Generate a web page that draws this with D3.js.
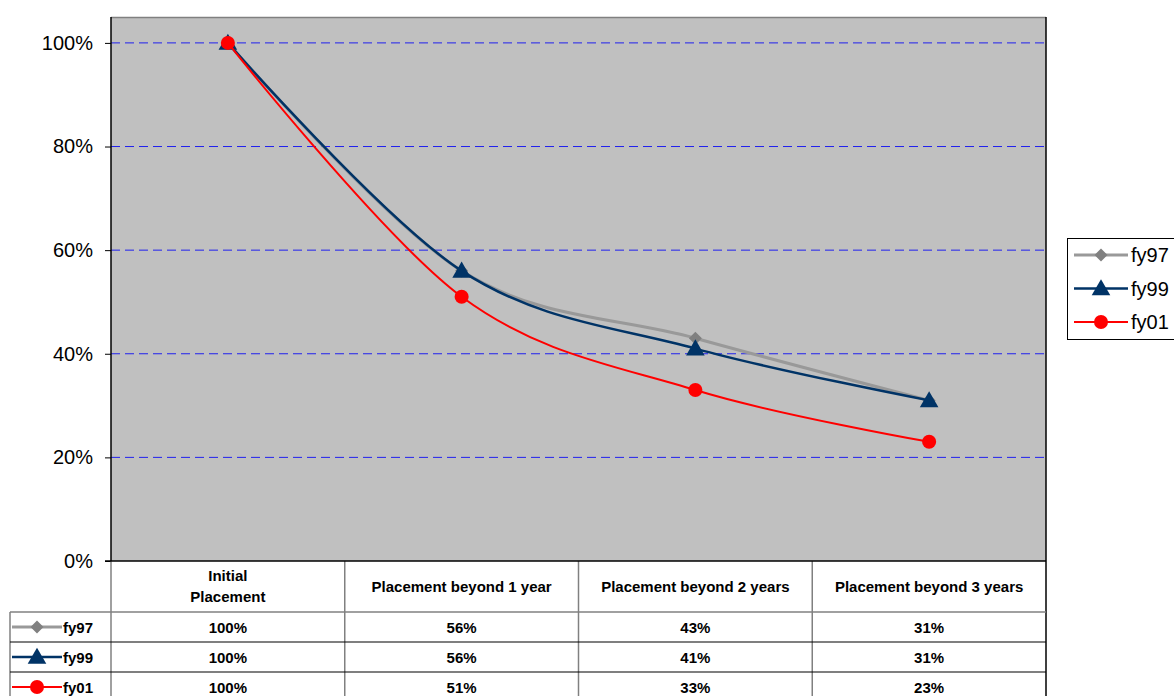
<!DOCTYPE html>
<html>
<head>
<meta charset="utf-8">
<script src="https://cdn.jsdelivr.net/npm/d3@7"></script>
<style>
  html, body { margin: 0; padding: 0; background: #ffffff; }
  svg { display: block; font-family: "Liberation Sans", Arial, sans-serif; }
</style>
</head>
<body>
<svg id="chart" width="1174" height="696"></svg>
<script>
// Placement retention by fiscal year cohort
const categories = ["Initial\nPlacement", "Placement beyond 1 year", "Placement beyond 2 years", "Placement beyond 3 years"];
const seriesNames = ["fy97", "fy99", "fy01"];
const fy97 = [1.00, 0.56, 0.43, 0.31];
const fy99 = [1.00, 0.56, 0.41, 0.31];
const fy01 = [1.00, 0.51, 0.33, 0.23];
const yTicks = [0, 0.2, 0.4, 0.6, 0.8, 1.0];

const seriesValues = [fy97, fy99, fy01];
const styles = {
  fy97: { color: "#999999", marker: "#808080", width: 3, symbol: d3.symbolSquare, size: 85, rotate: 45, dy: 0 },
  fy99: { color: "#003366", marker: "#003366", width: 2.5, symbol: d3.symbolTriangle, size: 150, rotate: 0, dy: 1.5 },
  fy01: { color: "#ff0000", marker: "#ff0000", width: 2, symbol: d3.symbolCircle, size: 155, rotate: 0, dy: 0 }
};

const svg = d3.select("#chart");
const plot = { left: 111, right: 1046, top: 17, bottom: 561 };
const table = { left: 10, headerBottom: 612, rowH: 30 };

const x = d3.scaleBand().domain(categories).range([plot.left, plot.right]);
const y = d3.scaleLinear().domain([0, 1.05]).range([plot.bottom, plot.top]);
const fmt = d3.format(".0%");

// plot background
svg.append("rect")
  .attr("x", plot.left).attr("y", plot.top)
  .attr("width", plot.right - plot.left).attr("height", plot.bottom - plot.top)
  .attr("fill", "#c0c0c0");

// horizontal gridlines
svg.append("g").selectAll("line")
  .data(yTicks.filter(d => d > 0))
  .join("line")
  .attr("x1", plot.left).attr("x2", plot.right)
  .attr("y1", d => y(d)).attr("y2", d => y(d))
  .attr("stroke", "#2020ee").attr("stroke-width", 1)
  .attr("stroke-dasharray", "9,5");

// plot border
svg.append("line").attr("x1", plot.left).attr("x2", plot.right).attr("y1", plot.top + 0.5).attr("y2", plot.top + 0.5)
  .attr("stroke", "#808080").attr("stroke-width", 1.5);
svg.append("line").attr("x1", plot.right).attr("x2", plot.right).attr("y1", plot.top).attr("y2", plot.bottom)
  .attr("stroke", "#000").attr("stroke-width", 1.5);

// y axis
const yAxis = d3.axisLeft(y).tickValues(yTicks).tickFormat(fmt).tickSize(6).tickPadding(12);
const gy = svg.append("g").attr("transform", `translate(${plot.left},0)`).call(yAxis);
gy.select(".domain").attr("stroke", "#000").attr("stroke-width", 1.5)
  .attr("d", `M0,${plot.top}V${plot.bottom}`);
gy.selectAll(".tick line").attr("stroke", "#000");
gy.selectAll(".tick text").attr("font-size", 20).attr("fill", "#000")
  .attr("font-family", "Liberation Sans, Arial, sans-serif");

// data table grid
const tableBottom = table.headerBottom + table.rowH * 3;
const grid = svg.append("g");
x.domain().forEach((c, i) => {
  if (i > 0) {
    grid.append("line").attr("x1", x(c)).attr("x2", x(c))
      .attr("y1", plot.bottom).attr("y2", tableBottom).attr("stroke", "#808080").attr("stroke-width", 1.5);
  }
});
grid.append("line").attr("x1", plot.left).attr("x2", plot.left)
  .attr("y1", plot.bottom).attr("y2", tableBottom).attr("stroke", "#808080").attr("stroke-width", 1.5);
grid.append("line").attr("x1", table.left).attr("x2", table.left)
  .attr("y1", table.headerBottom).attr("y2", tableBottom).attr("stroke", "#808080").attr("stroke-width", 1.5);
grid.append("line").attr("x1", plot.right).attr("x2", plot.right)
  .attr("y1", plot.bottom).attr("y2", tableBottom).attr("stroke", "#000").attr("stroke-width", 1.5);
grid.append("line").attr("x1", table.left).attr("x2", plot.right)
  .attr("y1", table.headerBottom).attr("y2", table.headerBottom).attr("stroke", "#808080").attr("stroke-width", 1.5);
[1, 2].forEach(r => {
  const yy = table.headerBottom + r * table.rowH;
  grid.append("line").attr("x1", table.left).attr("x2", plot.right)
    .attr("y1", yy).attr("y2", yy).attr("stroke", "#000").attr("stroke-width", 1.2);
});
// x axis line (bottom of plot)
svg.append("line").attr("x1", plot.left - 6).attr("x2", plot.right)
  .attr("y1", plot.bottom).attr("y2", plot.bottom).attr("stroke", "#000").attr("stroke-width", 1.5);

// header labels
const headG = svg.append("g").attr("font-size", 15).attr("font-weight", "bold").attr("text-anchor", "middle");
categories.forEach(c => {
  const lines = c.split("\n");
  const cx = x(c) + x.bandwidth() / 2;
  const cy = (plot.bottom + table.headerBottom) / 2;
  const lh = 21;
  lines.forEach((ln, j) => {
    headG.append("text")
      .attr("x", cx)
      .attr("y", cy + (j - (lines.length - 1) / 2) * lh)
      .attr("dy", "0.35em")
      .text(ln);
  });
});

// series lines and markers
const line = d3.line()
  .x((d, i) => x(categories[i]) + x.bandwidth() / 2)
  .y(d => y(d))
  .curve(d3.curveCardinal.tension(0));

function markerTransform(s, cx, cy) {
  return `translate(${cx},${cy + s.dy}) rotate(${s.rotate})`;
}

function keyGlyph(g, name, cx, cy, halfLen) {
  const s = styles[name];
  g.append("line").attr("x1", cx - halfLen).attr("x2", cx + halfLen)
    .attr("y1", cy).attr("y2", cy).attr("stroke", s.color).attr("stroke-width", s.width);
  g.append("path").attr("d", d3.symbol(s.symbol, s.size)())
    .attr("transform", markerTransform(s, cx, cy))
    .attr("fill", s.marker);
}

seriesNames.forEach((name, k) => {
  const s = styles[name];
  const vals = seriesValues[k];
  const g = svg.append("g");
  g.append("path").datum(vals).attr("d", line)
    .attr("fill", "none").attr("stroke", s.color).attr("stroke-width", s.width);
  g.selectAll("path.m").data(vals).join("path").attr("class", "m")
    .attr("d", d3.symbol(s.symbol, s.size))
    .attr("transform", (d, i) => markerTransform(s, x(categories[i]) + x.bandwidth() / 2, y(d)))
    .attr("fill", s.marker);

  // table row
  const rowCy = table.headerBottom + k * table.rowH + table.rowH / 2 + 1;
  const row = svg.append("g").attr("font-size", 15).attr("font-weight", "bold");
  keyGlyph(row, name, 37, rowCy - 1, 25);
  row.append("text").attr("x", 63).attr("y", rowCy).attr("dy", "0.35em").text(name);
  vals.forEach((v, i) => {
    row.append("text")
      .attr("x", x(categories[i]) + x.bandwidth() / 2)
      .attr("y", rowCy).attr("dy", "0.35em")
      .attr("text-anchor", "middle")
      .text(fmt(v));
  });
});

// legend
const legend = svg.append("g");
legend.append("rect").attr("x", 1067.5).attr("y", 238.5).attr("width", 120).attr("height", 101)
  .attr("fill", "#fff").attr("stroke", "#000").attr("stroke-width", 1);
seriesNames.forEach((name, k) => {
  const cy = 255 + k * 33.5;
  keyGlyph(legend, name, 1101, cy, 27);
  legend.append("text").attr("x", 1131).attr("y", cy).attr("dy", "0.35em")
    .attr("font-size", 20).text(name);
});
</script>
</body>
</html>
